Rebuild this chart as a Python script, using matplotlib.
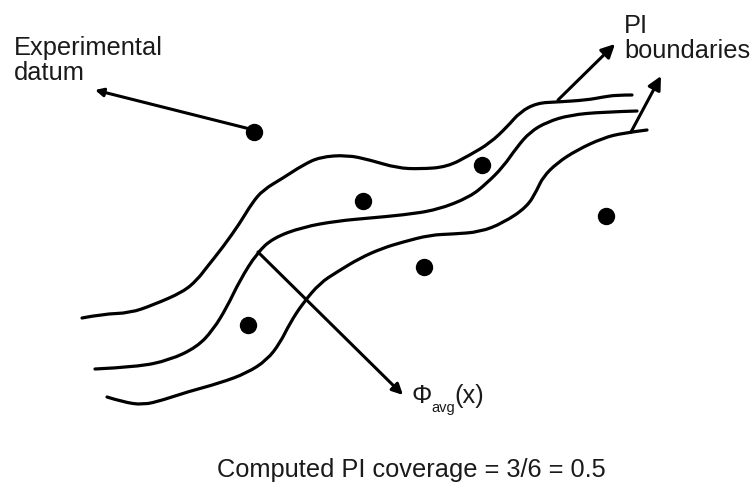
import matplotlib
matplotlib.use("Agg")
from matplotlib import pyplot as plt
from matplotlib.path import Path
from matplotlib.patches import PathPatch

plt.rcParams['font.family'] = ['Liberation Sans', 'DejaVu Sans']

# curves (pixel coords, y down)
upper_x = [82, 103, 130, 153, 183, 197, 207, 223, 240, 252, 263, 283, 303, 320, 347, 370,
           397, 420, 447, 470, 490, 507, 520, 537, 557, 587, 603, 617, 632]
upper_y = [318, 314, 313, 305, 292, 280, 267, 247, 223, 203, 190, 178, 165, 157, 155, 160,
           168, 169, 167, 155, 143, 127, 112, 103, 102, 100, 97, 95, 95]

mid_x = [95, 137, 170, 197, 213, 227, 240, 257, 273, 303, 337, 370, 403, 437, 470, 487,
         503, 517, 530, 547, 570, 603, 637]
mid_y = [369, 367, 360, 347, 330, 307, 280, 253, 238, 227, 221, 218, 215, 210, 197, 183,
         167, 147, 132, 122, 115, 112, 111]

lower_x = [107, 123, 143, 163, 187, 220, 247, 267, 280, 290, 303, 320, 337, 360, 383, 403,
           430, 453, 480, 503, 527, 537, 543, 557, 577, 603, 623, 647]
lower_y = [397, 402, 405, 400, 392, 383, 373, 360, 343, 323, 303, 283, 272, 258, 248, 242,
           235, 234, 232, 223, 207, 190, 177, 163, 150, 138, 133, 130]

# experimental data
dots_x = [254, 363, 482, 606, 424, 248]
dots_y = [132, 201, 165, 216, 267, 325]

fig = plt.figure(figsize=(7.53, 4.88), dpi=100)
ax = fig.add_axes([0, 0, 1, 1])
ax.set_xlim(0, 753)
ax.set_ylim(488, 0)
ax.axis('off')


def smooth(xs, ys):
    # quadratic b-spline through midpoints, drawn by the Path machinery
    verts = [(xs[0], ys[0])]
    codes = [Path.MOVETO]
    for i in range(1, len(xs) - 1):
        mx = (xs[i] + xs[i + 1]) / 2.
        my = (ys[i] + ys[i + 1]) / 2.
        if i == len(xs) - 2:
            mx, my = xs[-1], ys[-1]
        verts += [(xs[i], ys[i]), (mx, my)]
        codes += [Path.CURVE3, Path.CURVE3]
    return Path(verts, codes)


for xs, ys in [(upper_x, upper_y), (mid_x, mid_y), (lower_x, lower_y)]:
    ax.add_patch(PathPatch(smooth(xs, ys), fill=False, lw=2.3, ec='black',
                           capstyle='round', joinstyle='round'))

ax.plot(dots_x, dots_y, 'o', color='black', ms=11.5)

def arrow(tail, head, size):
    ax.annotate('', xy=head, xytext=tail,
                arrowprops=dict(arrowstyle='-|>', lw=2.2, color='black',
                                mutation_scale=size, shrinkA=0, shrinkB=0))

arrow((254, 130), (95, 90), 12)
arrow((558, 100), (615, 44), 20)
arrow((631, 132), (661, 76), 20)
arrow((258, 252), (403, 395), 16)

tc = '#1a1a1a'
txt = dict(fontsize=18.3, color=tc, linespacing=1.05)
ax.text(14, 36, 'Experimental\ndatum', va='top', ha='left', **txt)
ax.text(624, 14, 'PI\nboundaries', va='top', ha='left', **txt)
ax.text(411, 470, 'Computed PI coverage = 3/6 = 0.5', va='center', ha='center', **txt)
ax.text(412, 403, '\u03a6', va='baseline', ha='left', fontsize=18.3, color=tc)
ax.text(431, 412, 'avg', va='baseline', ha='left', fontsize=10.5, color=tc)
ax.text(454, 403, '(x)', va='baseline', ha='left', fontsize=18.3, color=tc)

fig.savefig('out.png', dpi=100)
